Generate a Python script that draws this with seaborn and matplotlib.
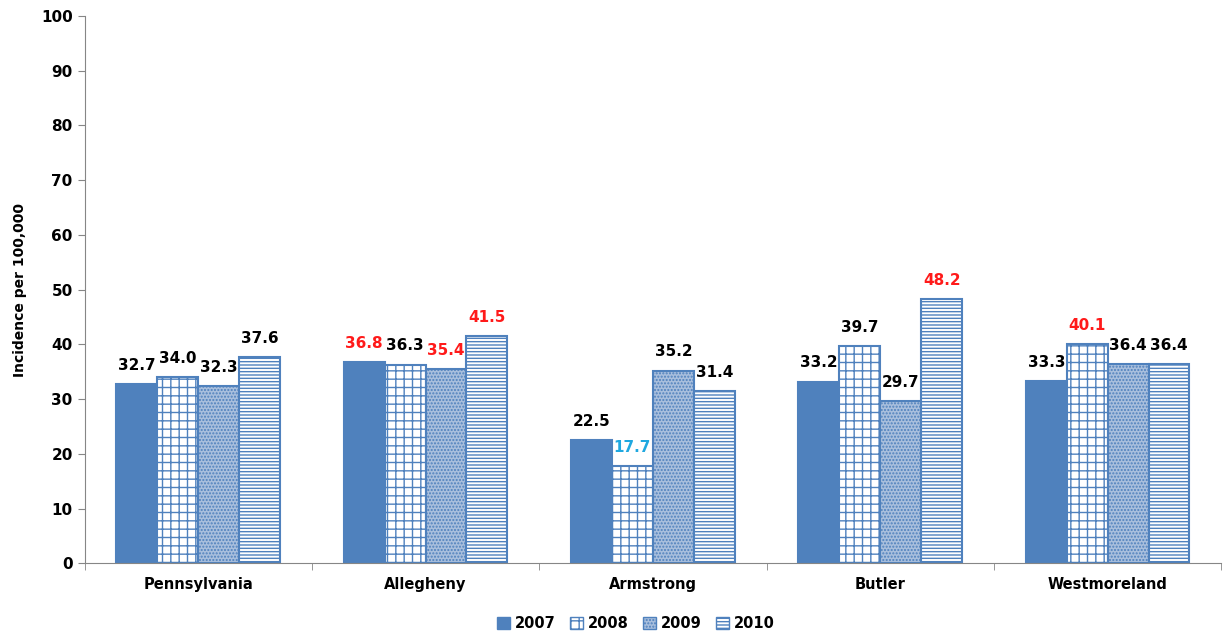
import pandas as pd
import seaborn as sns
import matplotlib.pyplot as plt

regions = ['Pennsylvania', 'Allegheny', 'Armstrong', 'Butler', 'Westmoreland']
years = ['2007', '2008', '2009', '2010']
v2007 = [32.7, 36.8, 22.5, 33.2, 33.3]
v2008 = [34.0, 36.3, 17.7, 39.7, 40.1]
v2009 = [32.3, 35.4, 35.2, 29.7, 36.4]
v2010 = [37.6, 41.5, 31.4, 48.2, 36.4]
# label colours: red = significantly higher, blue = significantly lower
c2007 = ['k', 'r', 'k', 'k', 'k']
c2008 = ['k', 'k', 'b', 'k', 'r']
c2009 = ['k', 'r', 'k', 'k', 'k']
c2010 = ['k', 'r', 'k', 'r', 'k']

rows = []
for y, vals in zip(years, [v2007, v2008, v2009, v2010]):
    for r, v in zip(regions, vals):
        rows.append({'Region': r, 'Year': y, 'Value': v})
df = pd.DataFrame(rows)

sns.set_style('white')
plt.rcParams['font.family'] = ['DejaVu Sans']
plt.rcParams['text.color'] = 'black'

blue = '#4F81BD'
fig = plt.figure(figsize=(12.25, 6.35), dpi=100)
ax = fig.add_axes([0.069, 0.113, 0.928, 0.862])
sns.barplot(data=df, x='Region', y='Value', hue='Year', order=regions, hue_order=years,
            width=0.72, palette=[blue] * 4, ax=ax, saturation=1, legend=True)

styles = [
    dict(facecolor=blue, hatch=None),
    dict(facecolor='white', hatch='++'),
    dict(facecolor='#A9BFDD', hatch='.....'),
    dict(facecolor='white', hatch='-----'),
]
plt.rcParams['hatch.color'] = blue
plt.rcParams['hatch.linewidth'] = 1.0
colmap = {'k': 'black', 'r': '#FF1A1A', 'b': '#1FA8E0'}
label_cols = [c2007, c2008, c2009, c2010]
for i, cont in enumerate(ax.containers):
    for j, p in enumerate(cont.patches):
        p.set_facecolor(styles[i]['facecolor'])
        p.set_hatch(styles[i]['hatch'])
        p.set_edgecolor(blue)
        p.set_linewidth(1.5)
        ax.annotate(f'{p.get_height():.1f}', (p.get_x() + p.get_width() / 2, p.get_height()),
                    xytext=(0, 8), textcoords='offset points', ha='center', va='bottom',
                    fontsize=11, fontweight='bold', color=colmap[label_cols[i][j]])

ax.set_ylim(0, 100)
ax.set_xlim(-0.5, 4.5)
ax.set_yticks(range(0, 101, 10))
ax.set_xlabel('')
ax.set_ylabel('Incidence per 100,000', fontsize=10, fontweight='bold', labelpad=10, color='black')
for lbl in ax.get_yticklabels() + ax.get_xticklabels():
    lbl.set_fontweight('bold')
ax.tick_params(axis='y', labelsize=11, length=5, color='#868686', direction='out', left=True,
               labelcolor='black')
ax.tick_params(axis='x', which='major', labelsize=10.5, length=0, pad=10, labelcolor='black')
ax.set_xticks([i - 0.5 for i in range(6)], minor=True)
ax.tick_params(axis='x', which='minor', length=5, color='#868686', bottom=True)
sns.despine(ax=ax)
for s in ['left', 'bottom']:
    ax.spines[s].set_color('#868686')

handles, labels = ax.get_legend_handles_labels()
for h, st in zip(handles, styles):
    h.set_facecolor(st['facecolor'])
    h.set_hatch(st['hatch'])
    h.set_edgecolor(blue)
ax.legend(handles, labels, loc='upper center', bbox_to_anchor=(0.485, -0.072), ncol=4,
          frameon=False, prop={'weight': 'bold', 'size': 10.5}, handlelength=0.9,
          handleheight=0.9, columnspacing=1.0, handletextpad=0.3, labelcolor='black')

fig.savefig('out.png', dpi=100)
